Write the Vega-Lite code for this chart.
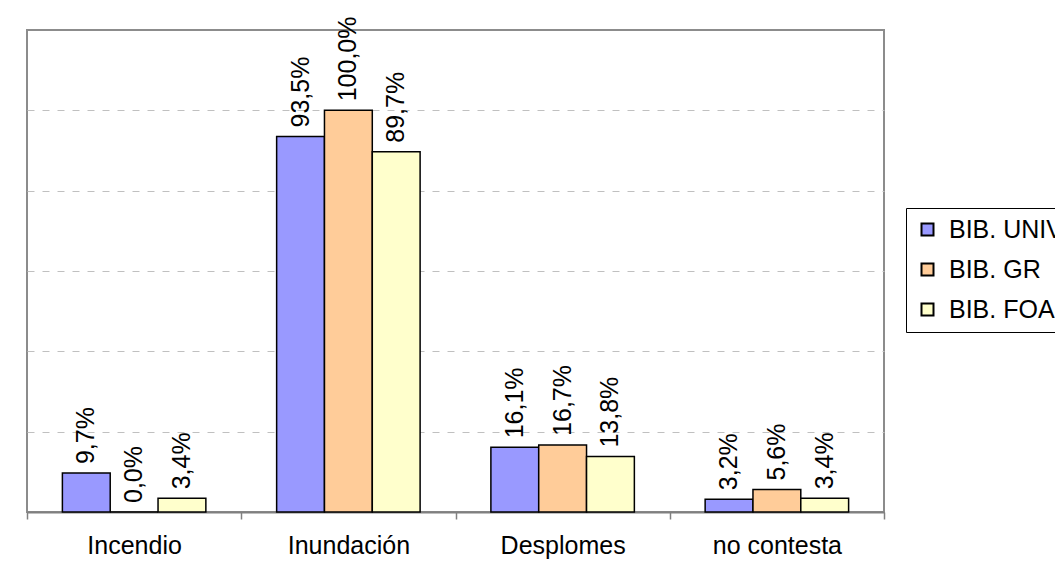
{
  "$schema": "https://vega.github.io/schema/vega-lite/v6.json",
  "width": 857,
  "height": 482,
  "autosize": {"type": "none"},
  "padding": {"left": 27, "top": 30, "right": 171, "bottom": 75},
  "background": "white",
  "config": {
    "locale": {"number": {"decimal": ",", "thousands": ".", "grouping": [3], "currency": ["", " €"]}},
    "font": "Liberation Sans",
    "view": {"stroke": "#8c8c8c", "strokeWidth": 2}
  },
  "data": {
    "values": [
      {"peligro": "Incendio", "biblioteca": "BIB. UNIV", "share": 0.097},
      {"peligro": "Incendio", "biblioteca": "BIB. GR", "share": 0.0},
      {"peligro": "Incendio", "biblioteca": "BIB. FOA", "share": 0.034},
      {"peligro": "Inundación", "biblioteca": "BIB. UNIV", "share": 0.935},
      {"peligro": "Inundación", "biblioteca": "BIB. GR", "share": 1.0},
      {"peligro": "Inundación", "biblioteca": "BIB. FOA", "share": 0.897},
      {"peligro": "Desplomes", "biblioteca": "BIB. UNIV", "share": 0.161},
      {"peligro": "Desplomes", "biblioteca": "BIB. GR", "share": 0.167},
      {"peligro": "Desplomes", "biblioteca": "BIB. FOA", "share": 0.138},
      {"peligro": "no contesta", "biblioteca": "BIB. UNIV", "share": 0.032},
      {"peligro": "no contesta", "biblioteca": "BIB. GR", "share": 0.056},
      {"peligro": "no contesta", "biblioteca": "BIB. FOA", "share": 0.034}
    ]
  },
  "encoding": {
    "x": {
      "field": "peligro",
      "type": "nominal",
      "sort": ["Incendio", "Inundación", "Desplomes", "no contesta"],
      "scale": {"paddingInner": 0, "paddingOuter": 0},
      "axis": {
        "title": null,
        "labelAngle": 0,
        "labelFontSize": 25,
        "labelColor": "black",
        "labelPadding": 14,
        "tickBand": "extent",
        "tickSize": 7,
        "tickColor": "#808080",
        "tickWidth": 1.5,
        "domainColor": "#808080",
        "domainWidth": 2,
        "grid": false
      }
    },
    "xOffset": {
      "field": "biblioteca",
      "type": "nominal",
      "sort": ["BIB. UNIV", "BIB. GR", "BIB. FOA"],
      "scale": {"paddingInner": 0, "paddingOuter": 0.74}
    },
    "y": {
      "field": "share",
      "type": "quantitative",
      "scale": {"domain": [0, 1.2], "nice": false, "zero": true},
      "axis": {
        "title": null,
        "labels": false,
        "ticks": false,
        "domain": false,
        "grid": true,
        "values": [0.2, 0.4, 0.6, 0.8, 1.0],
        "gridColor": "#c0c0c0",
        "gridDash": [7, 8],
        "gridWidth": 1
      }
    }
  },
  "layer": [
    {
      "mark": {"type": "bar", "stroke": "black", "strokeWidth": 1.5},
      "encoding": {
        "color": {
          "field": "biblioteca",
          "type": "nominal",
          "sort": ["BIB. UNIV", "BIB. GR", "BIB. FOA"],
          "scale": {"domain": ["BIB. UNIV", "BIB. GR", "BIB. FOA"], "range": ["#9999FF", "#FFCC99", "#FFFFCC"]},
          "legend": {
            "orient": "none",
            "legendX": 879,
            "legendY": 178,
            "title": null,
            "strokeColor": "black",
            "fillColor": "white",
            "padding": 9,
            "symbolType": "square",
            "symbolSize": 144,
            "symbolStrokeColor": "black",
            "symbolStrokeWidth": 2,
            "symbolOpacity": 1,
            "labelFontSize": 25,
            "labelColor": "black",
            "labelOffset": 9,
            "rowPadding": 14
          }
        }
      }
    },
    {
      "mark": {"type": "text", "angle": 270, "align": "left", "baseline": "middle", "dx": 9, "fontSize": 25, "color": "black"},
      "encoding": {
        "text": {"field": "share", "type": "quantitative", "format": ".1%"}
      }
    }
  ]
}
